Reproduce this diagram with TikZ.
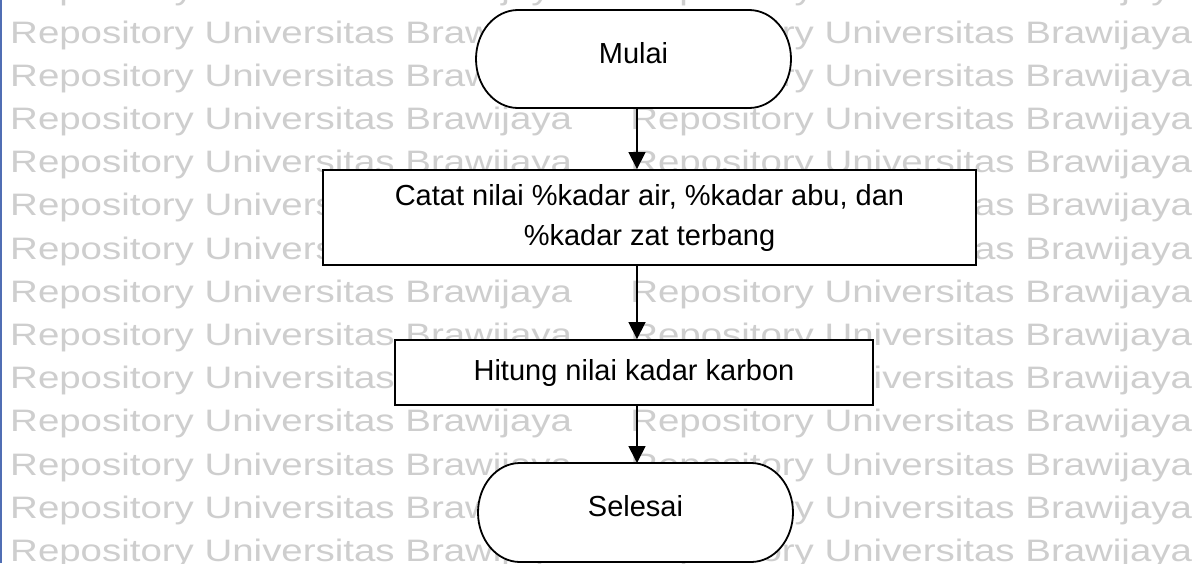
\documentclass[tikz,border=0pt]{standalone}
\usepackage{fontspec}
\setmainfont{Liberation Sans}
\usetikzlibrary{arrows.meta,calc}
\pgfdeclarelayer{wm}
\pgfdeclarelayer{bg}
\pgfsetlayers{wm,bg,main}
\definecolor{wmgray}{RGB}{206,206,206}
\definecolor{edgeblue}{RGB}{80,110,180}
\tikzset{
  wmtext/.style={anchor=base west, inner sep=0pt, text=wmgray,
    font=\fontsize{31}{31}\selectfont, xscale=1.24, transform shape},
  term/.style={shape=rectangle, inner sep=0pt, outer sep=0pt,
    font=\fontsize{29}{35}\selectfont, text height=14pt, text depth=5.4pt},
  termline/.style={draw=black, fill=white, line width=1.8pt},
  procbox/.style={draw=black, fill=white, line width=1.9pt, inner sep=0pt,
    font=\fontsize{29}{40}\selectfont, align=center},
  conn/.style={draw=black, line width=1.7pt, -{Triangle[width=17pt,length=17pt]}},
}
\begin{document}
\begin{tikzpicture}[x=1pt,y=1pt]
\useasboundingbox (0,0) rectangle (1203,-563);

% repeated background text and left edge rule
\begin{pgfonlayer}{wm}
\fill[white] (0,0) rectangle (1203,-563);
\foreach \k in {0,...,13}{
  \node[wmtext] (wmL\k) at (10,{0.2-43.2*\k}) {Repository Universitas Brawijaya};
  \node[wmtext] (wmR\k) at (630,{0.2-43.2*\k}) {Repository Universitas Brawijaya};
}
\fill[edgeblue] (0,0) rectangle (2,-563);
\end{pgfonlayer}

% flowchart steps
\node[term, minimum width=315pt, minimum height=98pt] (start) at (633.5,-59) {Mulai};
\node[procbox, minimum width=653pt, minimum height=95pt] (rec) at (649.5,-217.5)
  {Catat nilai \%kadar air, \%kadar abu, dan\\\%kadar zat terbang};
\node[procbox, minimum width=478pt, minimum height=65pt] (calc) at (634,-372.5)
  {Hitung nilai kadar karbon};
\node[term, minimum width=315pt, minimum height=99pt] (stop) at (635.5,-512.5) {Selesai};

% terminal outlines with elliptical ends
\begin{pgfonlayer}{bg}
\draw[termline] ([xshift=42pt]start.north west) -- ([xshift=-42pt]start.north east)
  arc[start angle=90,end angle=-90,x radius=42pt,y radius=49pt]
  -- ([xshift=42pt]start.south west)
  arc[start angle=270,end angle=90,x radius=42pt,y radius=49pt] -- cycle;
\draw[termline] ([xshift=42pt]stop.north west) -- ([xshift=-42pt]stop.north east)
  arc[start angle=90,end angle=-90,x radius=42pt,y radius=49.5pt]
  -- ([xshift=42pt]stop.south west)
  arc[start angle=270,end angle=90,x radius=42pt,y radius=49.5pt] -- cycle;
\end{pgfonlayer}

% connectors
\coordinate (ax) at (637,0);
\draw[conn] (start.south -| ax) -- (rec.north -| ax);
\draw[conn] (rec.south -| ax) -- (calc.north -| ax);
\draw[conn] (calc.south -| ax) -- (stop.north -| ax);
\end{tikzpicture}
\end{document}
